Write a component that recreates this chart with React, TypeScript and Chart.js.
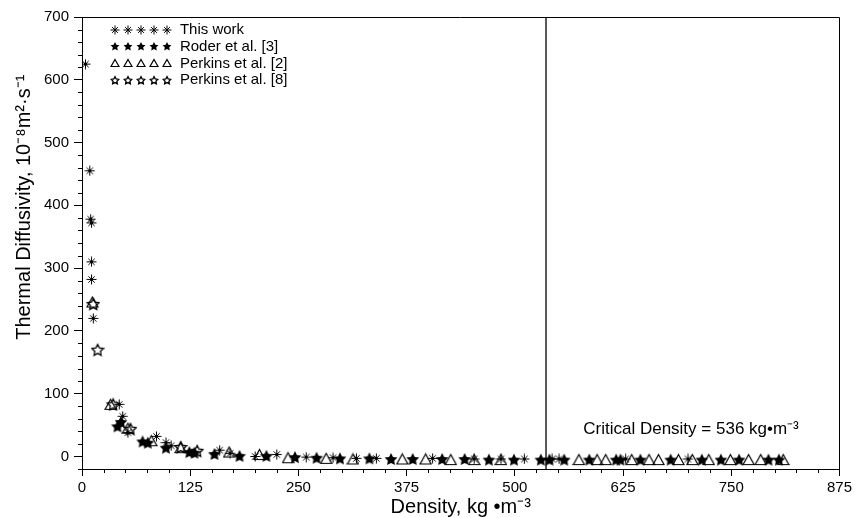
import React, { useEffect, useRef } from 'react';
import { Chart, registerables } from 'chart.js';

Chart.register(...registerables);

const FONT = '"Liberation Sans", Arial, sans-serif';

const xTicks = [0, 125, 250, 375, 500, 625, 750, 875];
const yTicks = [0, 100, 200, 300, 400, 500, 600, 700];

const xTitle = 'Density, kg \u2022m\u207B\u00B3';
const yTitle = 'Thermal Diffusivity, 10\u207B\u2078m\u00B2\u00B7s\u207B\u00B9';

const criticalDensity = 536;
const criticalLabel = 'Critical Density = 536 kg\u2022m\u207B\u00B3';

const seriesLabels = ['This work', 'Roder et al. [3]', 'Perkins et al. [2]', 'Perkins et al. [8]'];

const thisWork: [number, number][] = [
  [4, 625], [9, 455], [10, 378], [11, 372], [11, 310], [11, 282], [13, 220],
  [43, 83], [47, 64], [53, 38], [86, 32], [97, 22], [103, 17], [159, 10],
  [171, 5], [200, 0], [225, 3], [259, -1], [290, -2], [317, -3], [340, -3],
  [405, -3], [453, -4], [484, -4], [511, -4], [543, -4], [551, -4], [628, -4], [700, -4],
];

const roder: [number, number][] = [
  [41, 48], [45, 55], [70, 24], [76, 22], [97, 14], [124, 7], [130, 6], [153, 4],
  [182, 1], [213, 1], [246, -1], [271, -2], [298, -3], [332, -3], [357, -4], [382, -4],
  [416, -4], [442, -4], [470, -5], [499, -5], [530, -5], [540, -5], [557, -5], [586, -5],
  [617, -5], [622, -5], [645, -5], [680, -5], [716, -5], [738, -5], [759, -5], [793, -5], [805, -5],
];

const perkins2: [number, number][] = [
  [12, 246], [33, 83], [53, 45], [80, 25], [114, 14], [170, 7], [205, 3], [238, -2],
  [282, -3], [313, -4], [370, -4], [397, -4], [426, -5], [453, -5], [484, -5], [574, -5],
  [595, -5], [605, -5], [635, -5], [655, -5], [666, -5], [689, -5], [705, -5], [724, -5],
  [749, -5], [770, -5], [784, -5], [810, -5],
];

const perkins8: [number, number][] = [
  [13, 243], [18, 170], [36, 83], [56, 44], [114, 15], [133, 9],
];

type Kind = 'asterisk' | 'filledStar' | 'triangle' | 'openStar';

function starPath(ctx: CanvasRenderingContext2D, cx: number, cy: number, R: number, r: number) {
  ctx.beginPath();
  for (let i = 0; i < 10; i++) {
    const a = -Math.PI / 2 + (i * Math.PI) / 5;
    const rad = i % 2 === 0 ? R : r;
    const px = cx + rad * Math.cos(a);
    const py = cy + rad * Math.sin(a);
    if (i === 0) ctx.moveTo(px, py);
    else ctx.lineTo(px, py);
  }
  ctx.closePath();
}

function makeMarker(kind: Kind, size: number): HTMLCanvasElement {
  const c = document.createElement('canvas');
  c.width = size;
  c.height = size;
  const ctx = c.getContext('2d')!;
  ctx.strokeStyle = '#000';
  ctx.fillStyle = '#000';
  ctx.lineWidth = 1;
  const m = size / 2;
  if (kind === 'asterisk') {
    const R = m - 0.5;
    for (let k = 0; k < 4; k++) {
      const a = (k * Math.PI) / 4;
      const rr = k % 2 === 0 ? R : R * 0.9;
      ctx.beginPath();
      ctx.moveTo(m - rr * Math.cos(a), m - rr * Math.sin(a));
      ctx.lineTo(m + rr * Math.cos(a), m + rr * Math.sin(a));
      ctx.stroke();
    }
  } else if (kind === 'filledStar') {
    const R = m - 0.3;
    starPath(ctx, m, m + 0.6, R, R * 0.5);
    ctx.fill();
  } else if (kind === 'openStar') {
    const R = m - 1;
    ctx.lineWidth = 1.3;
    starPath(ctx, m, m + 0.6, R, R * 0.5);
    ctx.stroke();
  } else {
    ctx.lineWidth = 1.2;
    ctx.beginPath();
    ctx.moveTo(m, 1.5);
    ctx.lineTo(size - 1, size - 1.5);
    ctx.lineTo(1, size - 1.5);
    ctx.closePath();
    ctx.stroke();
  }
  return c;
}

const toPts = (arr: [number, number][]) => arr.map(([x, y]) => ({ x, y }));

export default function App() {
  const ref = useRef<HTMLCanvasElement | null>(null);

  useEffect(() => {
    if (!ref.current) return;
    const kinds: Kind[] = ['asterisk', 'filledStar', 'triangle', 'openStar'];
    const dataSizes = [11, 14, 13, 14];
    const markers = kinds.map((k, i) => makeMarker(k, dataSizes[i]));
    const legendMarkers = kinds.map((k) => makeMarker(k, 10));

    const framePlugin = {
      id: 'frameAndExtras',
      afterDraw(chart: any) {
        const { ctx, chartArea } = chart;
        const xs = chart.scales.x;
        const ys = chart.scales.y;
        ctx.save();
        ctx.strokeStyle = '#000';
        ctx.lineWidth = 1;
        // frame
        ctx.beginPath();
        ctx.moveTo(chartArea.left, Math.round(chartArea.top) + 0.5);
        ctx.lineTo(Math.round(chartArea.right) + 0.5, Math.round(chartArea.top) + 0.5);
        ctx.lineTo(Math.round(chartArea.right) + 0.5, chartArea.bottom);
        ctx.stroke();
        // minor ticks x
        ctx.beginPath();
        for (let v = 25; v < 875; v += 25) {
          if (v % 125 === 0) continue;
          const px = Math.round(xs.getPixelForValue(v)) + 0.5;
          ctx.moveTo(px, chartArea.bottom);
          ctx.lineTo(px, chartArea.bottom + 4);
        }
        // minor ticks y
        for (let v = -20; v < 700; v += 20) {
          if (v % 100 === 0) continue;
          const py = Math.round(ys.getPixelForValue(v)) + 0.5;
          ctx.moveTo(chartArea.left - 4, py);
          ctx.lineTo(chartArea.left, py);
        }
        ctx.stroke();

        // y axis title
        ctx.fillStyle = '#000';
        ctx.save();
        ctx.font = `20px ${FONT}`;
        ctx.textAlign = 'center';
        ctx.textBaseline = 'middle';
        ctx.translate(24, ys.getPixelForValue(397));
        ctx.rotate(-Math.PI / 2);
        ctx.fillText(yTitle, 0, 0);
        ctx.restore();

        // legend
        ctx.font = `15px ${FONT}`;
        ctx.textBaseline = 'middle';
        ctx.textAlign = 'left';
        const lx0 = xs.getPixelForValue(38);
        const ly0 = ys.getPixelForValue(680);
        const rowH = 16.7;
        seriesLabels.forEach((lab, i) => {
          const cy = ly0 + i * rowH;
          for (let k = 0; k < 5; k++) {
            const cx = lx0 + k * 13;
            ctx.drawImage(legendMarkers[i], Math.round(cx - 5), Math.round(cy - 5));
          }
          ctx.fillText(lab, lx0 + 65, cy + 0.5);
        });

        // critical density text
        ctx.font = `17px ${FONT}`;
        ctx.fillText(criticalLabel, xs.getPixelForValue(579), ys.getPixelForValue(43));
        ctx.restore();
      },
    };

    const chart = new Chart(ref.current, {
      type: 'scatter',
      data: {
        datasets: [
          {
            label: seriesLabels[2],
            data: toPts(perkins2),
            pointStyle: markers[2] as any,
            pointRadius: 6,
          },
          {
            label: seriesLabels[3],
            data: toPts(perkins8),
            pointStyle: markers[3] as any,
            pointRadius: 7,
          },
          {
            label: seriesLabels[0],
            data: toPts(thisWork),
            pointStyle: markers[0] as any,
            pointRadius: 5,
          },
          {
            label: seriesLabels[1],
            data: toPts(roder),
            pointStyle: markers[1] as any,
            pointRadius: 6,
          },
          {
            label: 'critical',
            data: [
              { x: criticalDensity, y: -20 },
              { x: criticalDensity, y: 700 },
            ],
            showLine: true,
            pointRadius: 0,
            borderColor: '#000',
            borderWidth: 1.3,
          } as any,
        ],
      },
      options: {
        responsive: false,
        animation: false,
        layout: { padding: { left: 0, right: 15, top: 17, bottom: 0 } },
        plugins: { legend: { display: false }, tooltip: { enabled: false } },
        scales: {
          x: {
            type: 'linear',
            min: 0,
            max: 875,
            afterBuildTicks: (s: any) => {
              s.ticks = xTicks.map((v) => ({ value: v }));
            },
            afterFit: (s: any) => {
              s.height = 49;
            },
            grid: { drawOnChartArea: false, tickLength: 7, color: '#000', tickColor: '#000' },
            border: { color: '#000', width: 1 },
            ticks: {
              color: '#000',
              font: { family: FONT, size: 15 },
              padding: 3,
              maxRotation: 0,
              autoSkip: false,
            },
            title: {
              display: true,
              text: xTitle,
              color: '#000',
              font: { family: FONT, size: 20 },
              padding: { top: 0, bottom: -1 },
            },
          },
          y: {
            type: 'linear',
            min: -20,
            max: 700,
            afterBuildTicks: (s: any) => {
              s.ticks = yTicks.map((v) => ({ value: v }));
            },
            afterFit: (s: any) => {
              s.width = 82;
            },
            grid: { drawOnChartArea: false, tickLength: 8, color: '#000', tickColor: '#000' },
            border: { color: '#000', width: 1 },
            ticks: {
              color: '#000',
              font: { family: FONT, size: 15 },
              padding: 5,
              autoSkip: false,
            },
            title: { display: false },
          },
        },
      },
      plugins: [framePlugin],
    } as any);
    return () => chart.destroy();
  }, []);

  return (
    <div style={{ position: 'absolute', left: 0, top: 0, width: 855, height: 518, background: '#fff' }}>
      <canvas ref={ref} width={855} height={518} style={{ display: 'block' }} />
    </div>
  );
}
